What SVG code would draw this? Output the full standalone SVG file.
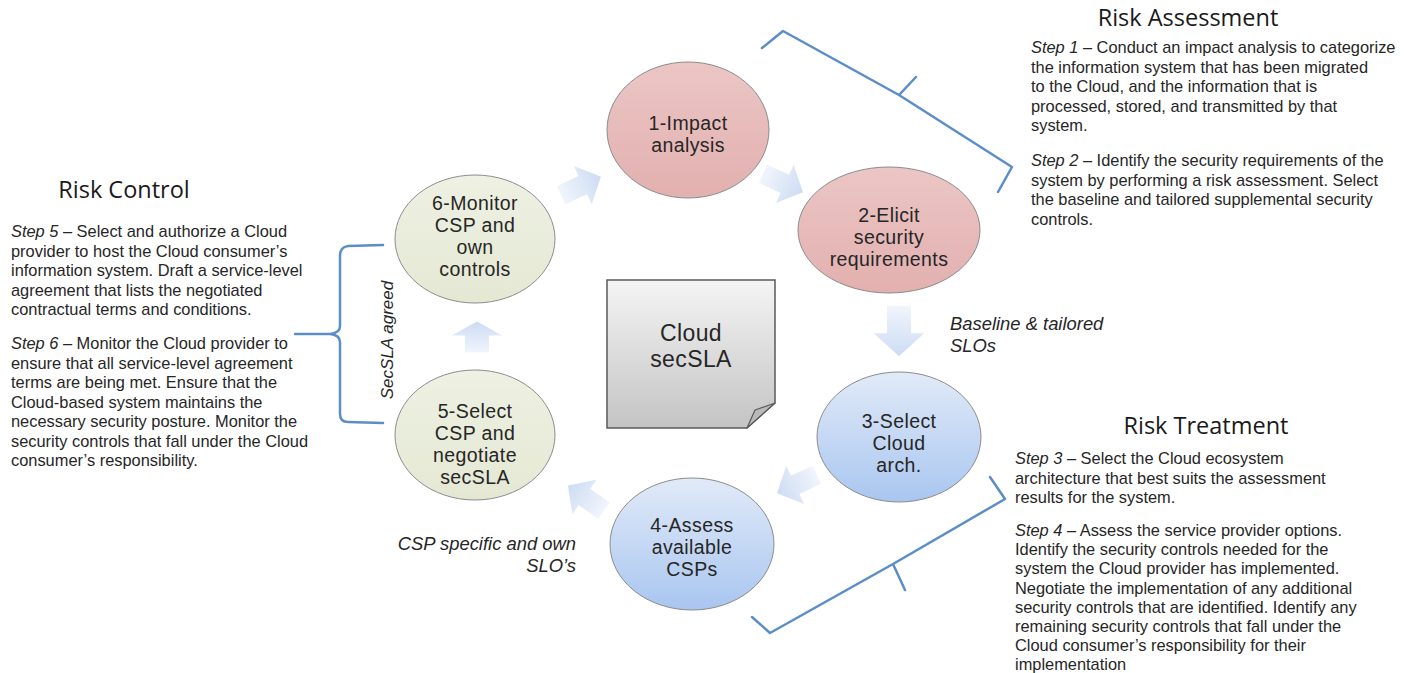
<svg xmlns="http://www.w3.org/2000/svg" width="1407" height="673" viewBox="0 0 1407 673">
<defs>
<linearGradient id="gPink" x1="0" y1="0" x2="0" y2="1"><stop offset="0" stop-color="#ebc6c5"/><stop offset="1" stop-color="#e2b0af"/></linearGradient>
<linearGradient id="gGreen" x1="0" y1="0" x2="0" y2="1"><stop offset="0" stop-color="#eef1e3"/><stop offset="1" stop-color="#e4e8d3"/></linearGradient>
<linearGradient id="gBlue" x1="0" y1="0" x2="0" y2="1"><stop offset="0" stop-color="#e1eaf8"/><stop offset="1" stop-color="#a9c6f0"/></linearGradient>
<linearGradient id="gArrow" x1="0" y1="0" x2="1" y2="0"><stop offset="0" stop-color="#f1f5fc"/><stop offset="1" stop-color="#cddcf3"/></linearGradient>
<linearGradient id="gDoc" x1="0" y1="0" x2="0" y2="1"><stop offset="0" stop-color="#f4f4f4"/><stop offset="1" stop-color="#c4c4c4"/></linearGradient>
<polygon id="arr" points="-22,-10 2,-10 2,-21 22,0 2,21 2,10 -22,10"/>
</defs>
<style>
.node ellipse{stroke:#8c8c8c;stroke-width:1}
.nt{font-family:"Liberation Sans",Arial,sans-serif;font-size:19.5px;letter-spacing:0.4px;fill:#262626;text-anchor:middle}
.title{font-family:"Open Sans","Liberation Sans",sans-serif;font-size:23.5px;fill:#1a1a1a;text-anchor:middle}
.body{font-family:"Liberation Sans",Arial,sans-serif;font-size:16.4px;fill:#262626}
.it{font-style:italic}
.lbl{font-family:"Liberation Sans",Arial,sans-serif;font-size:18.4px;font-style:italic;fill:#262626}
.brace{fill:none;stroke:#5b8ec9;stroke-width:2.5;stroke-linejoin:round;stroke-linecap:round}
.arrow use{fill:url(#gArrow)}
</style>
<rect width="1407" height="673" fill="#ffffff"/>

<g id="connectors" class="arrow">
<use href="#arr" transform="translate(581,186) rotate(-25)"/>
<use href="#arr" transform="translate(783,183) rotate(25)"/>
<use href="#arr" transform="translate(899,331) rotate(90) scale(1.15,1.2)"/>
<use href="#arr" transform="translate(797,484) rotate(155)"/>
<use href="#arr" transform="translate(586,498) rotate(-145)"/>
<use href="#arr" transform="translate(477,337) rotate(-90) scale(0.7,1.2)"/>
</g>

<g id="braces">
<path class="brace" d="M762,48 L783,31 L899,95 L916,77 M899,95 L1012,167 L998,192"/>
<path class="brace" d="M990,477 L1005,499 L893,564 L905,590 M893,564 L770,633 L752,617"/>
<path class="brace" d="M383,245 L348,246 Q340,247 340,256 L340,326 Q340,333 330,334 L295,334 M330,334 Q340,335 340,342 L340,414 Q340,422 348,422 L383,423"/>
</g>

<g id="node1" class="node">
<ellipse cx="688" cy="130" rx="81" ry="68" fill="url(#gPink)"/>
<text class="nt" x="688" y="130">1-Impact</text>
<text class="nt" x="688" y="152">analysis</text>
</g>
<g id="node2" class="node">
<ellipse cx="889" cy="230" rx="91" ry="63" fill="url(#gPink)"/>
<text class="nt" x="889" y="222">2-Elicit</text>
<text class="nt" x="889" y="244">security</text>
<text class="nt" x="889" y="266">requirements</text>
</g>
<g id="node3" class="node">
<ellipse cx="899" cy="437" rx="82" ry="65" fill="url(#gBlue)"/>
<text class="nt" x="899" y="428">3-Select</text>
<text class="nt" x="899" y="450">Cloud</text>
<text class="nt" x="899" y="472">arch.</text>
</g>
<g id="node4" class="node">
<ellipse cx="692" cy="544" rx="82" ry="66" fill="url(#gBlue)"/>
<text class="nt" x="692" y="532">4-Assess</text>
<text class="nt" x="692" y="554">available</text>
<text class="nt" x="692" y="576">CSPs</text>
</g>
<g id="node5" class="node">
<ellipse cx="475" cy="435" rx="80" ry="65" fill="url(#gGreen)"/>
<text class="nt" x="475" y="418">5-Select</text>
<text class="nt" x="475" y="440">CSP and</text>
<text class="nt" x="475" y="462">negotiate</text>
<text class="nt" x="475" y="484">secSLA</text>
</g>
<g id="node6" class="node">
<ellipse cx="475" cy="239" rx="80" ry="64" fill="url(#gGreen)"/>
<text class="nt" x="475" y="210">6-Monitor</text>
<text class="nt" x="475" y="232">CSP and</text>
<text class="nt" x="475" y="254">own</text>
<text class="nt" x="475" y="276">controls</text>
</g>
<g id="doc">
<path d="M607,280 L775,280 L775,403 L747,428 L607,428 Z" fill="url(#gDoc)" stroke="#5a5a5a" stroke-width="1.5"/>
<path d="M747,428 L755,410 L775,403 Z" fill="#b9b9b9" stroke="#5a5a5a" stroke-width="1.2" stroke-linejoin="round"/>
<text x="691" y="341" font-family="'Liberation Sans',Arial,sans-serif" font-size="23" letter-spacing="0.4" fill="#262626" text-anchor="middle">Cloud</text>
<text x="691" y="367" font-family="'Liberation Sans',Arial,sans-serif" font-size="23" letter-spacing="0.4" fill="#262626" text-anchor="middle">secSLA</text>
</g>

<g id="risk-assessment">
<text class="title" x="1188" y="26">Risk Assessment</text>
<text class="body" x="1031" y="53"><tspan class="it">Step 1</tspan> – Conduct an impact analysis to categorize</text>
<text class="body" x="1031" y="72.5">the information system that has been migrated</text>
<text class="body" x="1031" y="92">to the Cloud, and  the information that is</text>
<text class="body" x="1031" y="111.5">processed, stored, and transmitted by that</text>
<text class="body" x="1031" y="131">system.</text>
<text class="body" x="1031" y="166"><tspan class="it">Step 2</tspan> – Identify the security requirements of the</text>
<text class="body" x="1031" y="185.5">system by performing a risk assessment. Select</text>
<text class="body" x="1031" y="205">the baseline and tailored supplemental security</text>
<text class="body" x="1031" y="224.5">controls.</text>
</g>

<g id="risk-control">
<text class="title" x="124" y="198">Risk Control</text>
<text class="body" x="11" y="237"><tspan class="it">Step 5</tspan> – Select and authorize a Cloud</text>
<text class="body" x="11" y="256.5">provider to host the Cloud consumer’s</text>
<text class="body" x="11" y="276">information system. Draft a service-level</text>
<text class="body" x="11" y="295.5">agreement that lists the negotiated</text>
<text class="body" x="11" y="315">contractual terms and conditions.</text>
<text class="body" x="11" y="349"><tspan class="it">Step 6</tspan> – Monitor the Cloud provider to</text>
<text class="body" x="11" y="368.5">ensure that all service-level agreement</text>
<text class="body" x="11" y="388">terms are being met. Ensure that the</text>
<text class="body" x="11" y="407.5">Cloud-based system maintains the</text>
<text class="body" x="11" y="427">necessary security posture. Monitor the</text>
<text class="body" x="11" y="446.5">security controls that fall under the Cloud</text>
<text class="body" x="11" y="466">consumer’s responsibility.</text>
</g>

<g id="risk-treatment">
<text class="title" x="1206" y="434">Risk Treatment</text>
<text class="body" x="1015" y="464"><tspan class="it">Step 3</tspan> – Select the Cloud ecosystem</text>
<text class="body" x="1015" y="483.5">architecture that best suits the assessment</text>
<text class="body" x="1015" y="503">results for the system.</text>
<text class="body" x="1015" y="536"><tspan class="it">Step 4</tspan> – Assess the service provider options.</text>
<text class="body" x="1015" y="555">Identify the security controls needed for the</text>
<text class="body" x="1015" y="574">system the Cloud provider has implemented.</text>
<text class="body" x="1015" y="593.5">Negotiate the implementation of any additional</text>
<text class="body" x="1015" y="613">security controls that are identified. Identify any</text>
<text class="body" x="1015" y="632">remaining security controls that fall under the</text>
<text class="body" x="1015" y="651">Cloud consumer’s responsibility for their</text>
<text class="body" x="1015" y="670">implementation</text>
</g>

<g id="labels">
<text class="lbl" x="950" y="330">Baseline &amp; tailored</text>
<text class="lbl" x="950" y="352">SLOs</text>
<text class="lbl" x="576" y="550" text-anchor="end">CSP specific and own</text>
<text class="lbl" x="576" y="572" text-anchor="end">SLO’s</text>
<text class="lbl" transform="translate(393,340) rotate(-90)" text-anchor="middle" style="font-size:17px">SecSLA agreed</text>
</g>
</svg>
